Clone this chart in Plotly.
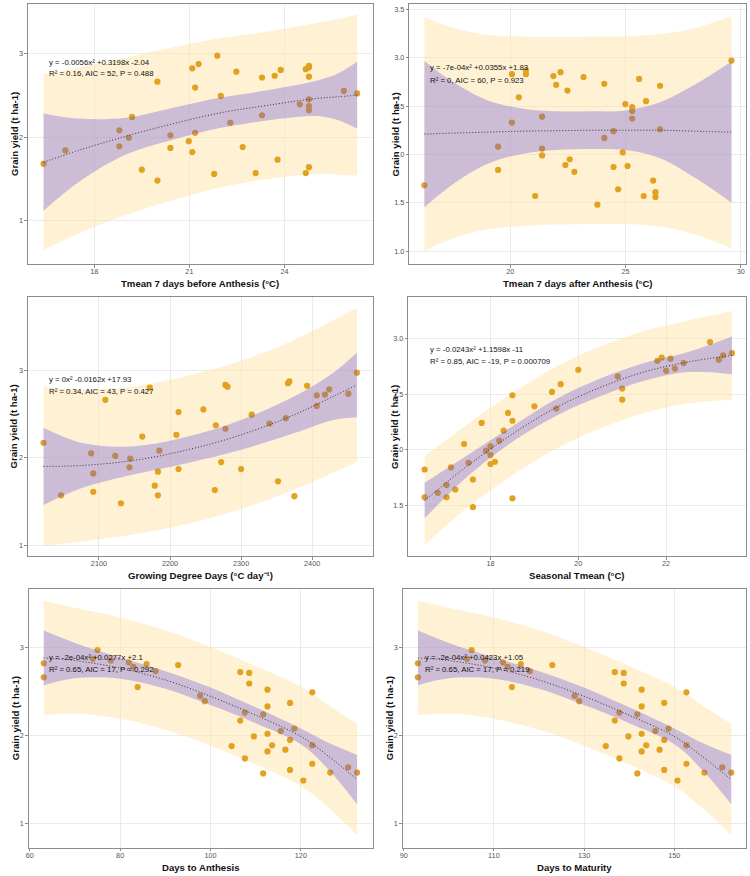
import plotly.graph_objects as go

# ---------------- data ----------------
# Panel 1: Tmean 7 days before anthesis
p1_x = [16.4, 17.09, 18.79, 18.79, 19.09, 19.19, 19.5, 19.99, 19.99, 20.4, 20.4, 20.98, 21.09, 21.09,
        21.18, 21.18, 21.29, 21.78, 21.88, 21.99, 22.29, 22.48, 22.68, 23.09, 23.29, 23.29, 23.69, 23.78,
        23.88, 24.48, 24.67, 24.67, 24.77, 24.77, 24.77, 24.77, 24.77, 24.77, 24.77, 25.87, 26.29]
p1_y = [1.68, 1.84, 2.08, 1.89, 1.99, 2.24, 1.61, 2.66, 1.48, 2.02, 1.87, 1.95, 2.82, 1.82,
        2.59, 2.05, 2.87, 1.56, 2.97, 2.49, 2.17, 2.78, 1.88, 1.57, 2.71, 2.26, 2.73, 1.73,
        2.80, 2.39, 2.81, 1.57, 2.85, 2.83, 2.72, 2.45, 2.37, 2.32, 1.64, 2.55, 2.52]
p1_bx = [16.4, 17.5, 19.0, 20.5, 22.0, 23.5, 25.0, 25.7, 26.29]
p1_fit = [1.70, 1.84, 2.01, 2.16, 2.29, 2.38, 2.46, 2.48, 2.50]
p1_ci_lo = [1.12, 1.46, 1.79, 1.97, 2.11, 2.20, 2.25, 2.20, 2.10]
p1_ci_hi = [2.28, 2.22, 2.23, 2.35, 2.47, 2.56, 2.67, 2.76, 2.90]
p1_pi_lo = [0.65, 0.85, 1.07, 1.25, 1.40, 1.50, 1.56, 1.55, 1.54]
p1_pi_hi = [2.75, 2.83, 2.95, 3.07, 3.18, 3.26, 3.36, 3.41, 3.46]

# Panel 2: Tmean 7 days after anthesis
p2_x = [16.27, 19.47, 19.47, 20.07, 20.07, 20.37, 20.68, 20.68, 21.08, 21.38, 21.38, 21.38, 21.87, 21.99,
        22.18, 22.39, 22.48, 22.58, 22.78, 23.18, 23.78, 24.08, 24.08, 24.48, 24.48, 24.68, 24.88, 24.99,
        25.09, 25.29, 25.29, 25.29, 25.59, 25.79, 25.89, 26.2, 26.3, 26.3, 26.5, 26.5, 29.6]
p2_y = [1.68, 2.08, 1.84, 2.33, 2.83, 2.59, 2.87, 2.83, 1.57, 2.39, 2.06, 1.99, 2.81, 2.72,
        2.85, 1.89, 2.66, 1.95, 1.82, 2.80, 1.48, 2.73, 2.17, 2.24, 1.87, 1.64, 2.02, 2.52,
        1.88, 2.49, 2.45, 2.37, 2.78, 1.57, 2.55, 1.73, 1.61, 1.56, 2.71, 2.26, 2.97]
p2_bx = [16.27, 17.5, 19.0, 20.5, 22.0, 23.5, 25.0, 26.5, 28.0, 29.6]
p2_fit = [2.21, 2.22, 2.23, 2.24, 2.245, 2.25, 2.25, 2.25, 2.24, 2.23]
p2_ci_lo = [1.455, 1.69, 1.90, 2.005, 2.045, 2.055, 2.045, 1.96, 1.76, 1.50]
p2_ci_hi = [2.965, 2.75, 2.56, 2.475, 2.445, 2.445, 2.455, 2.54, 2.72, 2.96]
p2_pi_lo = [1.00, 1.13, 1.225, 1.26, 1.275, 1.28, 1.28, 1.255, 1.175, 1.03]
p2_pi_hi = [3.42, 3.31, 3.235, 3.22, 3.215, 3.22, 3.22, 3.245, 3.305, 3.43]

# Panel 3: Growing degree days
p3_x = [2022, 2046.7, 2089, 2092, 2092, 2109, 2123, 2131, 2143, 2144, 2161, 2171.5, 2178.5, 2183,
        2183, 2185, 2209, 2212, 2212, 2247, 2263, 2264.5, 2272, 2278, 2281, 2278, 2300, 2315,
        2340, 2352, 2363, 2366, 2368, 2375, 2393, 2406.5, 2406.5, 2418, 2424, 2451, 2463]
p3_y = [2.17, 1.57, 2.05, 1.82, 1.61, 2.66, 2.02, 1.48, 1.89, 1.99, 2.24, 2.80, 1.68, 1.57,
        1.84, 2.08, 2.26, 2.52, 1.87, 2.55, 1.63, 2.37, 1.95, 2.83, 2.81, 2.33, 1.87, 2.49,
        2.39, 1.73, 2.45, 2.85, 2.87, 1.56, 2.82, 2.71, 2.59, 2.72, 2.78, 2.73, 2.97]
p3_bx = [2022, 2075, 2150, 2225, 2300, 2375, 2430, 2463]
p3_fit = [1.90, 1.91, 1.97, 2.09, 2.26, 2.49, 2.70, 2.83]
p3_ci_lo = [1.46, 1.65, 1.81, 1.94, 2.09, 2.28, 2.43, 2.46]
p3_ci_hi = [2.34, 2.17, 2.13, 2.24, 2.43, 2.70, 2.97, 3.20]
p3_pi_lo = [0.99, 1.04, 1.125, 1.245, 1.415, 1.635, 1.83, 1.95]
p3_pi_hi = [2.81, 2.78, 2.815, 2.935, 3.105, 3.345, 3.57, 3.71]

# Panel 4: Seasonal Tmean
p4_x = [16.5, 16.5, 16.8, 17.0, 17.0, 17.1, 17.2, 17.4, 17.5, 17.6, 17.6, 17.8, 17.9, 18.0,
        18.0, 18.0, 18.1, 18.2, 18.3, 18.4, 18.5, 18.5, 18.5, 19.0, 19.4, 19.5, 19.6, 20.0,
        20.9, 21.0, 21.0, 21.8, 21.9, 22.0, 22.1, 22.2, 22.4, 23.0, 23.2, 23.3, 23.5]
p4_y = [1.82, 1.57, 1.61, 1.68, 1.57, 1.84, 1.64, 2.05, 1.88, 1.73, 1.48, 2.24, 1.99, 2.03,
        1.95, 1.87, 1.89, 2.08, 2.17, 2.33, 2.49, 2.26, 1.56, 2.39, 2.52, 2.37, 2.59, 2.72,
        2.66, 2.55, 2.45, 2.80, 2.83, 2.71, 2.82, 2.73, 2.78, 2.97, 2.81, 2.85, 2.87]
p4_bx = [16.5, 17.5, 18.5, 19.5, 20.5, 21.5, 22.5, 23.5]
p4_fit = [1.54, 1.86, 2.14, 2.38, 2.56, 2.70, 2.79, 2.85]
p4_ci_lo = [1.38, 1.765, 2.07, 2.305, 2.48, 2.62, 2.70, 2.68]
p4_ci_hi = [1.70, 1.955, 2.21, 2.455, 2.64, 2.78, 2.88, 3.02]
p4_pi_lo = [1.14, 1.485, 1.77, 2.01, 2.19, 2.33, 2.415, 2.45]
p4_pi_hi = [1.94, 2.235, 2.51, 2.75, 2.93, 3.07, 3.165, 3.25]

# Panel 5: Days to anthesis
p5_x = [63.09, 63.09, 73.96, 74.99, 77.93, 81.9, 82.92, 83.88, 85.86, 87.85, 92.84, 97.69, 98.72, 104.67,
        106.58, 106.58, 107.61, 107.61, 108.57, 108.57, 109.6, 111.65, 111.65, 112.61, 112.61, 112.61, 112.61,
        113.64, 115.55, 116.58, 117.6, 117.6, 117.6, 118.56, 120.54, 122.53, 122.53, 122.53, 126.5, 130.46, 132.45]
p5_y = [2.82, 2.66, 2.87, 2.97, 2.85, 2.83, 2.78, 2.55, 2.81, 2.73, 2.80, 2.45, 2.39, 1.88,
        2.72, 2.17, 2.26, 1.74, 2.71, 2.59, 1.99, 2.24, 1.57, 2.52, 2.33, 2.02, 1.82,
        1.89, 2.05, 1.84, 2.37, 1.95, 1.61, 2.08, 1.49, 2.49, 1.89, 1.68, 1.58, 1.64, 1.58]
p5_bx = [63.09, 70, 80, 90, 100, 110, 120, 126, 132.45]
p5_fit = [2.88, 2.85, 2.765, 2.63, 2.445, 2.23, 1.99, 1.77, 1.50]
p5_ci_lo = [2.57, 2.65, 2.645, 2.53, 2.345, 2.14, 1.90, 1.62, 1.22]
p5_ci_hi = [3.19, 3.05, 2.885, 2.73, 2.545, 2.32, 2.08, 1.92, 1.78]
p5_pi_lo = [2.23, 2.25, 2.19, 2.065, 1.885, 1.67, 1.425, 1.19, 0.87]
p5_pi_hi = [3.53, 3.45, 3.34, 3.195, 3.005, 2.79, 2.555, 2.35, 2.13]

# Panel 6: Days to maturity
p6_x = [93.16, 93.16, 104.05, 105.08, 108.03, 112.0, 113.03, 113.99, 115.97, 117.96, 122.97, 127.9, 128.93, 134.81,
        136.8, 136.8, 137.83, 137.83, 138.79, 138.79, 139.82, 141.8, 141.8, 142.76, 142.76, 142.76, 142.76,
        143.79, 145.78, 146.73, 147.76, 147.76, 147.76, 148.72, 150.71, 152.69, 152.69, 152.69, 156.67, 160.64, 162.63]
p6_y = [2.82, 2.66, 2.87, 2.97, 2.85, 2.83, 2.78, 2.55, 2.81, 2.73, 2.80, 2.45, 2.39, 1.88,
        2.72, 2.17, 2.26, 1.74, 2.71, 2.59, 1.99, 2.24, 1.57, 2.52, 2.33, 2.02, 1.82,
        1.89, 2.05, 1.84, 2.37, 1.95, 1.61, 2.08, 1.49, 2.49, 1.89, 1.68, 1.58, 1.64, 1.58]
p6_bx = [93.16, 100, 110, 120, 130, 140, 150, 156, 162.63]
p6_fit = [2.88, 2.85, 2.765, 2.63, 2.445, 2.23, 1.99, 1.77, 1.50]
p6_ci_lo = [2.57, 2.65, 2.645, 2.53, 2.345, 2.14, 1.90, 1.62, 1.22]
p6_ci_hi = [3.19, 3.05, 2.885, 2.73, 2.545, 2.32, 2.08, 1.92, 1.78]
p6_pi_lo = [2.23, 2.25, 2.19, 2.065, 1.885, 1.67, 1.425, 1.19, 0.87]
p6_pi_hi = [3.53, 3.45, 3.34, 3.195, 3.005, 2.79, 2.555, 2.35, 2.13]

# tick labels
p1_xticks = [18, 21, 24]
p2_xticks = [20, 25, 30]
p3_xticks = [2100, 2200, 2300, 2400]
p4_xticks = [18, 20, 22]
p5_xticks = [60, 80, 100, 120]
p6_xticks = [90, 110, 130, 150]
int_yticks = [1, 2, 3]
int_yticktext = ["1", "2", "3"]
p2_yticks = [1.0, 1.5, 2.0, 2.5, 3.0, 3.5]
p2_yticktext = ["1.0", "1.5", "2.0", "2.5", "3.0", "3.5"]
p4_yticks = [1.5, 2.0, 2.5, 3.0]
p4_yticktext = ["1.5", "2.0", "2.5", "3.0"]

x_titles = ["Tmean 7 days before Anthesis (°C)", "Tmean 7 days after Anthesis (°C)",
            "Growing Degree Days (°C day⁻¹)", "Seasonal Tmean (°C)",
            "Days to Anthesis", "Days to Maturity"]
y_title = "Grain yield (t ha-1)"
eq_lines = ["y = -0.0056x² +0.3198x -2.04", "y = -7e-04x² +0.0355x +1.83",
            "y = 0x² -0.0162x +17.93", "y = -0.0243x² +1.1598x -11",
            "y = -2e-04x² +0.0277x +2.1", "y = -2e-04x² +0.0423x +1.05"]
stat_lines = ["R² = 0.16, AIC = 52, P = 0.488", "R² = 0, AIC = 60, P = 0.923",
              "R² = 0.34, AIC = 43, P = 0.427", "R² = 0.85, AIC = -19, P = 0.000709",
              "R² = 0.65, AIC = 17, P = 0.292", "R² = 0.65, AIC = 17, P = 0.219"]

# ---------------- layout / styling ----------------
W, H = 750, 876
FONT = "Liberation Sans, Arial, sans-serif"
YELLOW = "rgba(255,228,170,0.5)"
PURPLE = "rgba(100,82,220,0.33)"
POINT = "#E2A11E"

panels = [
    dict(px=p1_x, py=p1_y, bx=p1_bx, fit=p1_fit, cl=p1_ci_lo, ch=p1_ci_hi, pl=p1_pi_lo, ph=p1_pi_hi,
         xr=[15.906, 26.775], yr=[0.485, 3.587], xt=p1_xticks, yt=int_yticks, ytt=int_yticktext,
         box=(25, 4, 371, 264), xtitle_y=283.5, eq=(44.5, 62.3, 73.8)),
    dict(px=p2_x, py=p2_y, bx=p2_bx, fit=p2_fit, cl=p2_ci_lo, ch=p2_ci_hi, pl=p2_pi_lo, ph=p2_pi_hi,
         xr=[15.62, 30.23], yr=[0.867, 3.555], xt=p2_xticks, yt=p2_yticks, ytt=p2_yticktext,
         box=(408, 4, 746, 264), xtitle_y=283.5, eq=(427, 67, 80)),
    dict(px=p3_x, py=p3_y, bx=p3_bx, fit=p3_fit, cl=p3_ci_lo, ch=p3_ci_hi, pl=p3_pi_lo, ph=p3_pi_hi,
         xr=[2000, 2485], yr=[0.878, 3.833], xt=p3_xticks, yt=int_yticks, ytt=int_yticktext,
         box=(25, 297, 371, 556), xtitle_y=575.5, eq=(44.5, 379.3, 391)),
    dict(px=p4_x, py=p4_y, bx=p4_bx, fit=p4_fit, cl=p4_ci_lo, ch=p4_ci_hi, pl=p4_pi_lo, ph=p4_pi_hi,
         xr=[16.13, 23.82], yr=[1.04, 3.376], xt=p4_xticks, yt=p4_yticks, ytt=p4_yticktext,
         box=(407, 297, 746, 556), xtitle_y=575.5, eq=(427, 349.3, 361.7)),
    dict(px=p5_x, py=p5_y, bx=p5_bx, fit=p5_fit, cl=p5_ci_lo, ch=p5_ci_hi, pl=p5_pi_lo, ph=p5_pi_hi,
         xr=[59.8, 135.86], yr=[0.73, 3.662], xt=p5_xticks, yt=int_yticks, ytt=int_yticktext,
         box=(26, 589, 371, 847.5), xtitle_y=867.5, eq=(44.5, 657.7, 669.3)),
    dict(px=p6_x, py=p6_y, bx=p6_bx, fit=p6_fit, cl=p6_ci_lo, ch=p6_ci_hi, pl=p6_pi_lo, ph=p6_pi_hi,
         xr=[89.82, 165.9], yr=[0.73, 3.662], xt=p6_xticks, yt=int_yticks, ytt=int_yticktext,
         box=(401.5, 589, 746, 847.5), xtitle_y=867.5, eq=(421.3, 657.7, 669.3)),
]

fig = go.Figure()
layout_axes = {}
annotations = []

for i, p in enumerate(panels, start=1):
    sfx = "" if i == 1 else str(i)
    xa, ya = "x" + sfx, "y" + sfx
    common = dict(xaxis=xa, yaxis=ya, showlegend=False, hoverinfo="skip")
    # prediction band (yellow)
    fig.add_trace(go.Scatter(x=p["bx"], y=p["pl"], mode="lines", line=dict(width=0, shape="spline"), **common))
    fig.add_trace(go.Scatter(x=p["bx"], y=p["ph"], mode="lines", line=dict(width=0, shape="spline"),
                             fill="tonexty", fillcolor=YELLOW, **common))
    # points
    fig.add_trace(go.Scatter(x=p["px"], y=p["py"], mode="markers",
                             marker=dict(size=6.2, color=POINT, line=dict(width=0)), **common))
    # confidence band (purple)
    fig.add_trace(go.Scatter(x=p["bx"], y=p["cl"], mode="lines", line=dict(width=0, shape="spline"), **common))
    fig.add_trace(go.Scatter(x=p["bx"], y=p["ch"], mode="lines", line=dict(width=0, shape="spline"),
                             fill="tonexty", fillcolor=PURPLE, **common))
    # fitted curve (dotted)
    fig.add_trace(go.Scatter(x=p["bx"], y=p["fit"], mode="lines",
                             line=dict(width=0.9, dash="1px,2px", color="#222222", shape="spline"), **common))

    x0, y0, x1, y1 = p["box"]
    axis_style = dict(showgrid=True, gridcolor="#EBEBEB", gridwidth=0.7, zeroline=False,
                      showline=True, linecolor="#8C8C8C", linewidth=1, mirror=True,
                      ticks="outside", ticklen=2.5, tickwidth=0.8, tickcolor="#8C8C8C",
                      tickfont=dict(family=FONT, size=7.3, color="#555555"), fixedrange=True)
    layout_axes["xaxis" + sfx] = dict(domain=[x0 / W, x1 / W], range=p["xr"], anchor=ya,
                                      tickvals=p["xt"], ticktext=[str(v) for v in p["xt"]],
                                      ticklabelstandoff=-2, **axis_style)
    layout_axes["yaxis" + sfx] = dict(domain=[1 - y1 / H, 1 - y0 / H], range=p["yr"], anchor=xa,
                                      tickvals=p["yt"], ticktext=p["ytt"], **axis_style)

    # axis titles
    annotations.append(dict(text="<b>" + x_titles[i - 1] + "</b>", xref="paper", yref="paper",
                            x=(x0 + x1) / 2 / W, y=1 - p["xtitle_y"] / H, xanchor="center", yanchor="middle",
                            showarrow=False, font=dict(family=FONT, size=9.6, color="#111111")))
    annotations.append(dict(text="<b>" + y_title + "</b>", xref="paper", yref="paper",
                            x=(x0 - 14) / W, y=1 - (y0 + y1) / 2 / H, xanchor="center", yanchor="middle",
                            textangle=-90, showarrow=False, font=dict(family=FONT, size=9.6, color="#111111")))
    # equation text
    ex, ey1, ey2 = p["eq"]
    for txt, yy in ((eq_lines[i - 1], ey1), (stat_lines[i - 1], ey2)):
        annotations.append(dict(text=txt, xref="paper", yref="paper", x=ex / W, y=1 - yy / H,
                                xanchor="left", yanchor="middle", showarrow=False,
                                font=dict(family=FONT, size=7.8, color="#111111")))

fig.update_layout(width=W, height=H, margin=dict(l=0, r=0, t=0, b=0),
                  paper_bgcolor="white", plot_bgcolor="white",
                  font=dict(family=FONT), annotations=annotations, **layout_axes)

fig.write_html("out.html")
